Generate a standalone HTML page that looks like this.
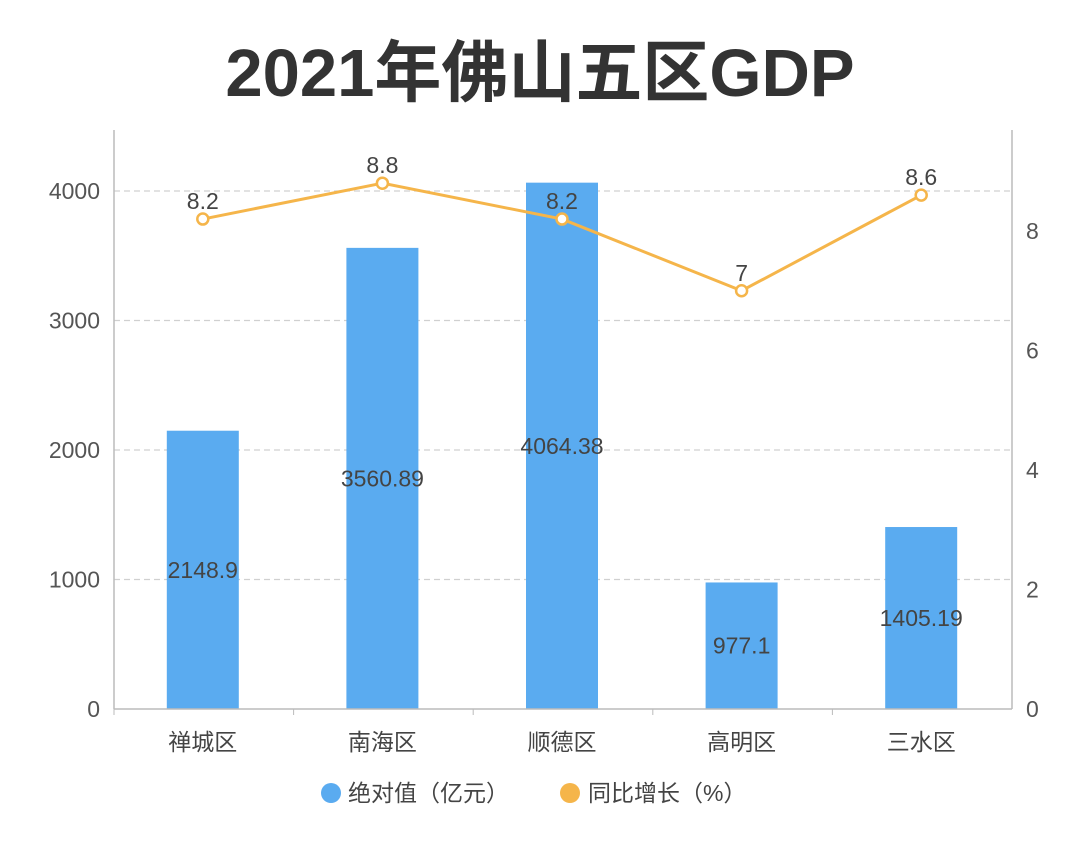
<!DOCTYPE html>
<html><head><meta charset="utf-8"><style>
body{margin:0;background:#fff;width:1080px;height:846px;overflow:hidden;font-family:"Liberation Sans","Noto Sans CJK SC",sans-serif}
</style></head><body>
<svg width="1080" height="846" xmlns="http://www.w3.org/2000/svg" font-family="Liberation Sans, Noto Sans CJK SC, sans-serif">
<text x="540" y="96" text-anchor="middle" font-size="67" font-weight="bold" fill="#333">2021年佛山五区GDP</text>
<g id="grid"></g><g id="bars"></g><g id="axes"></g><g id="line"></g>
<g>
<circle cx="331" cy="793" r="10" fill="#5aabf0"/>
<text x="348" y="801" font-size="23" fill="#444">绝对值（亿元）</text>
<circle cx="570" cy="793" r="10" fill="#f5b54a"/>
<text x="588" y="801" font-size="23" fill="#444">同比增长（%）</text>
</g>
</svg>
<script>
const categories=["禅城区","南海区","顺德区","高明区","三水区"];
const gdpValues=[2148.9,3560.89,4064.38,977.1,1405.19];
const growthValues=[8.2,8.8,8.2,7,8.6];
const leftTicks=[0,1000,2000,3000,4000];
const rightTicks=[0,2,4,6,8];
const NS="http://www.w3.org/2000/svg";
const X0=114,X1=1012,Y0=709;
const yL=v=>Y0-v*0.1295;
const yR=v=>Y0-v*59.75;
const xC=i=>X0+(X1-X0)/categories.length*(i+0.5)-1;
function mk(p,t,a,txt){const e=document.createElementNS(NS,t);for(const k in a)e.setAttribute(k,a[k]);if(txt!==undefined)e.textContent=txt;document.getElementById(p).appendChild(e);return e;}
leftTicks.forEach((v,i)=>{
 if(v>0){const g=mk("grid","line",{x1:X0,x2:X1,y1:yL(v),y2:yL(v),stroke:"#d0d0d0","stroke-dasharray":"6,4","stroke-width":1.2});
 
 }
 const t=mk("axes","text",{x:X0-14,y:yL(v)+8,"text-anchor":"end","font-size":23,fill:"#555"},v);
 
 
});
rightTicks.forEach(v=>{
 const t=mk("axes","text",{x:X1+14,y:yR(v)+8,"font-size":23,fill:"#555"},v);
 
 
});
[[X0,130,X0,Y0],[X1,130,X1,Y0],[X0,Y0,X1,Y0]].forEach(c=>{
 const l=mk("axes","line",{x1:c[0],y1:c[1],x2:c[2],y2:c[3],stroke:"#bbb","stroke-width":1.5});
 
 
});
categories.forEach((c,i)=>{
 const t=mk("axes","text",{x:xC(i),y:750,"text-anchor":"middle","font-size":23,fill:"#444"},c);
 
 
 const tk=mk("axes","line",{x1:X0+(X1-X0)/5*i,x2:X0+(X1-X0)/5*i,y1:Y0,y2:Y0+6,stroke:"#bbb"});
 
 
});
gdpValues.forEach((v,i)=>{
 const b=mk("bars","rect",{x:xC(i)-36,y:yL(v),width:72,height:Y0-yL(v),fill:"#5aabf0"});
 
 
 const t=mk("bars","text",{x:xC(i),y:(yL(v)+Y0)/2+8,"text-anchor":"middle","font-size":23,fill:"#444"},v);
 
 
});
const pl=mk("line","polyline",{points:growthValues.map((v,i)=>xC(i)+","+yR(v)).join(" "),fill:"none",stroke:"#f5b54a","stroke-width":3});


growthValues.forEach((v,i)=>{
 const c=mk("line","circle",{cx:xC(i),cy:yR(v),r:5.5,fill:"#fff",stroke:"#f5b54a","stroke-width":2.5});
 
 
 const t=mk("line","text",{x:xC(i),y:yR(v)-10,"text-anchor":"middle","font-size":23,fill:"#444"},v);
 
 
});
</script>
</body></html>
